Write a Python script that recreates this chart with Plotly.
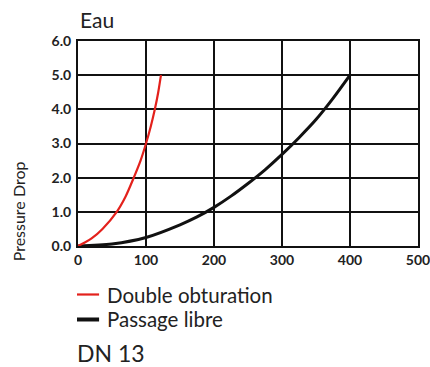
import plotly.graph_objects as go

# Flow rate vs pressure drop, DN 13, water
double_x = [0, 10, 20, 36, 57, 70, 82, 92, 100, 107, 113, 118, 122]
double_y = [0, 0.1, 0.22, 0.5, 1.0, 1.45, 2.0, 2.5, 3.0, 3.5, 4.0, 4.5, 5.0]

libre_x = [0, 50, 100, 150, 175, 200, 225, 250, 275, 300, 325, 350, 375, 400]
libre_y = [0, 0.06, 0.25, 0.62, 0.85, 1.13, 1.46, 1.83, 2.23, 2.68, 3.17, 3.7, 4.32, 5.0]

x_ticks = [0, 100, 200, 300, 400, 500]
y_ticks = [0.0, 1.0, 2.0, 3.0, 4.0, 5.0, 6.0]

series_names = ["Double obturation", "Passage libre"]
series_colors = ["#e3211c", "#111111"]

FONT = "Lato"

fig = go.Figure()
fig.add_trace(go.Scatter(x=libre_x, y=libre_y, mode="lines",
                         line=dict(color=series_colors[1], width=3, shape="spline", smoothing=0.8),
                         name=series_names[1], showlegend=False))
fig.add_trace(go.Scatter(x=double_x, y=double_y, mode="lines",
                         line=dict(color=series_colors[0], width=2.2, shape="spline", smoothing=0.8),
                         name=series_names[0], showlegend=False))

axis_common = dict(showgrid=True, gridcolor="#111111", gridwidth=2, showline=True, linecolor="#111111",
                   linewidth=2, mirror=True, zeroline=False, ticks="", automargin=False,
                   ticklabeloverflow="allow",
                   tickfont=dict(family=FONT, size=14, color="#222222", weight="bold"))

fig.update_xaxes(range=[0, 500], tickvals=x_ticks, ticktext=[str(v) for v in x_ticks], **axis_common)
fig.update_yaxes(range=[0, 6], tickvals=y_ticks, ticktext=[f"{v:.1f}" for v in y_ticks], ticklabelstandoff=2,
                 **axis_common)

# Legend keys and labels
legend_rows = [-0.2366, -0.3585]
key_widths = [2.2, 4]
annotations = []
shapes = []
for name, color, yrow, w in zip(series_names, series_colors, legend_rows, key_widths):
    shapes.append(dict(type="line", xref="paper", yref="paper", x0=-0.003, x1=0.062, y0=yrow, y1=yrow,
                       line=dict(color=color, width=w)))
    annotations.append(dict(text=name, xref="paper", yref="paper", x=0.082, y=yrow, xanchor="left",
                            yanchor="middle", showarrow=False, borderpad=0,
                            font=dict(family=FONT, size=20.5, color="#222222")))

annotations += [
    dict(text="Eau", xref="paper", yref="paper", x=0.0, y=1.107, xanchor="left", yanchor="middle",
         showarrow=False, font=dict(family=FONT, size=21, color="#222222")),
    dict(text="Pressure Drop", xref="paper", yref="paper", x=-0.176, y=0.17, xanchor="center",
         yanchor="middle", textangle=-90, showarrow=False, font=dict(family=FONT, size=16, color="#222222")),
    dict(text="DN 13", xref="paper", yref="paper", x=-0.01, y=-0.522, xanchor="left", yanchor="middle",
         showarrow=False, font=dict(family=FONT, size=23, color="#222222")),
]

fig.update_layout(width=430, height=367, margin=dict(l=78, r=12, t=41, b=121),
                  paper_bgcolor="white", plot_bgcolor="white", annotations=annotations, shapes=shapes)

fig.write_html("out.html")
